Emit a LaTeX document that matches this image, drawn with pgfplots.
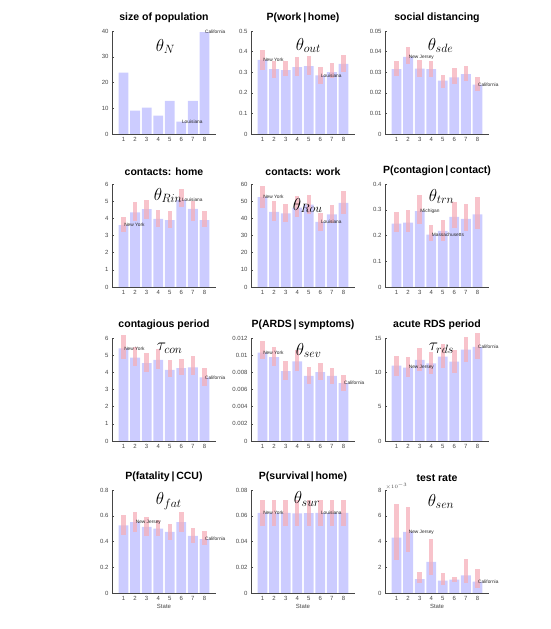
\documentclass[border=0pt]{standalone}
\usepackage{fontspec}
\setmainfont{Liberation Sans}
\usepackage{pgfplots}
\usepackage{pgfplotstable}
\pgfplotsset{compat=1.18}

\definecolor{barblue}{RGB}{204,204,255}
\definecolor{errpink}{RGB}{245,175,185}
\definecolor{axgray}{RGB}{70,70,70}

\pgfplotstableread{
x y
1 23.8
2 9.1
3 10.2
4 7.1
5 12.9
6 4.8
7 12.9
8 39.6
}\tpop
\pgfplotstableread{
x y lo hi
1 0.360 0.310 0.410
2 0.315 0.270 0.355
3 0.310 0.280 0.355
4 0.325 0.280 0.375
5 0.330 0.285 0.380
6 0.285 0.245 0.325
7 0.300 0.270 0.345
8 0.340 0.300 0.385
}\tout
\pgfplotstableread{
x y lo hi
1 0.0315 0.0283 0.0355
2 0.0374 0.0339 0.0422
3 0.0317 0.0278 0.0358
4 0.0315 0.0275 0.0355
5 0.0259 0.0224 0.0288
6 0.0275 0.0243 0.0318
7 0.0291 0.0259 0.0331
8 0.0240 0.0211 0.0275
}\tsde
\pgfplotstableread{
x y lo hi
1 3.60 3.19 4.06
2 4.35 3.87 4.93
3 4.53 3.97 5.07
4 3.97 3.52 4.49
5 3.90 3.44 4.41
6 5.07 4.64 5.71
7 4.55 3.87 5.03
8 3.89 3.48 4.40
}\trin
\pgfplotstableread{
x y lo hi
1 52.3 46.0 59.0
2 43.7 38.5 50.0
3 42.9 38.0 48.5
4 46.2 40.8 53.0
5 48.0 42.3 53.8
6 38.0 32.7 43.3
7 42.3 37.5 47.7
8 49.0 42.7 56.0
}\trou
\pgfplotstableread{
x y lo hi
1 0.246 0.212 0.291
2 0.250 0.212 0.298
3 0.295 0.244 0.358
4 0.203 0.177 0.241
5 0.218 0.180 0.260
6 0.272 0.231 0.331
7 0.265 0.218 0.324
8 0.282 0.224 0.349
}\ttrn
\pgfplotstableread{
x y lo hi
1 5.40 4.78 6.16
2 4.86 4.39 5.47
3 4.53 4.00 5.14
4 4.72 4.19 5.37
5 4.15 3.70 4.74
6 4.25 3.87 4.78
7 4.29 3.87 4.98
8 3.70 3.20 4.23
}\tcon
\pgfplotstableread{
x y lo hi
1 0.01030 0.00960 0.01170
2 0.00976 0.00878 0.01094
3 0.00815 0.00713 0.00929
4 0.00929 0.00819 0.01055
5 0.00760 0.00661 0.00862
6 0.00803 0.00713 0.00909
7 0.00760 0.00661 0.00854
8 0.00673 0.00583 0.00768
}\tsev
\pgfplotstableread{
x y lo hi
1 10.96 9.45 12.45
2 10.70 9.30 12.20
3 11.80 10.20 13.50
4 11.30 9.80 13.00
5 12.30 10.70 14.10
6 11.56 9.95 13.30
7 13.30 11.56 15.20
8 13.70 12.00 15.70
}\trds
\pgfplotstableread{
x y lo hi
1 0.526 0.449 0.603
2 0.551 0.474 0.633
3 0.513 0.444 0.590
4 0.500 0.444 0.564
5 0.474 0.410 0.538
6 0.551 0.474 0.628
7 0.444 0.385 0.505
8 0.418 0.372 0.480
}\tfat
\pgfplotstableread{
x y lo hi
1 0.0622 0.0520 0.0720
2 0.0620 0.0520 0.0720
3 0.0622 0.0520 0.0720
4 0.0618 0.0520 0.0720
5 0.0620 0.0520 0.0720
6 0.0622 0.0520 0.0720
7 0.0620 0.0520 0.0720
8 0.0622 0.0520 0.0720
}\tsur
\pgfplotstableread{
x y lo hi
1 4.31 2.54 6.90
2 4.75 3.17 6.68
3 1.07 0.76 1.60
4 2.41 1.40 4.19
5 0.96 0.63 1.57
6 1.04 0.89 1.22
7 1.37 0.76 2.67
8 0.89 0.38 1.90
}\tsen

\pgfplotsset{
 panel/.style={
  width=104pt, height=103pt, scale only axis,
  anchor=south west,
  axis lines*=left,
  axis line style={axgray, line width=0.6pt, -},
  xmin=0, xmax=9, ymin=0,
  xtick={1,...,8},
  tick align=inside, major tick length=1.8pt,
  tick style={axgray, line width=0.4pt},
  tick label style={font=\fontsize{6}{7}\selectfont, text=axgray},
  /pgf/number format/assume math mode=true,
  scaled y ticks=false,
  yticklabel style={/pgf/number format/fixed, /pgf/number format/precision=3},
  title style={font=\fontsize{10.5}{12}\selectfont\bfseries, at={(0.5,1)}, anchor=south, yshift=-1pt},
  xlabel style={font=\fontsize{6}{7}\selectfont, text=axgray, yshift=3pt},
  clip=false,
 },
}
\tikzset{
 lab/.style={font=\fontsize{4.8}{5}\selectfont, anchor=west, inner sep=0.5pt, text=black!85},
 th/.style={font=\fontsize{17}{20}\selectfont, anchor=west, inner sep=0pt},
}

\newcommand{\bars}[1]{%
 \addplot[ybar, bar width=0.85, fill=barblue, draw=none] table[x=x,y=y]{#1};
 \addplot[draw=none, mark=none, forget plot,
   error bars/.cd, y dir=both, y explicit, error mark=none,
   error bar style={line width=4.5pt, draw=errpink, opacity=0.75}]
   table[x=x, y=y, y error plus expr=\thisrow{hi}-\thisrow{y}, y error minus expr=\thisrow{y}-\thisrow{lo}]{#1};
}

\begin{document}
\begin{tikzpicture}[x=1pt,y=1pt]
\useasboundingbox (0,0) rectangle (550,629);

% Row 1
\begin{axis}[panel, at={(112pt,495pt)}, title={size of population}, ymax=40, ytick={0,10,20,30,40}]
 \addplot[ybar, bar width=0.85, fill=barblue, draw=none] table[x=x,y=y]{\tpop};
 \node[th] at (rel axis cs:0.42,0.85) {$\theta_{N}$};
 \node[lab] at (axis cs:8,39.6) {California};
 \node[lab] at (axis cs:6,4.8) {Louisiana};
\end{axis}

\begin{axis}[panel, at={(251pt,495pt)}, title={P(work\,|\,home)}, ymax=0.5, ytick={0,0.1,0.2,0.3,0.4,0.5}]
 \bars{\tout}
 \node[th] at (rel axis cs:0.43,0.86) {$\theta_{out}$};
 \node[lab] at (axis cs:1,0.36) {New York};
 \node[lab] at (axis cs:6,0.285) {Louisiana};
\end{axis}

\begin{axis}[panel, at={(385pt,495pt)}, title={social distancing}, ymax=0.05, ytick={0,0.01,0.02,0.03,0.04,0.05}]
 \bars{\tsde}
 \node[th] at (rel axis cs:0.41,0.86) {$\theta_{sde}$};
 \node[lab] at (axis cs:2,0.0374) {New Jersey};
 \node[lab] at (axis cs:8,0.0240) {California};
\end{axis}

% Row 2
\begin{axis}[panel, at={(112pt,342pt)}, title={contacts: home}, ymax=6, ytick={0,1,2,3,4,5,6}]
 \bars{\trin}
 \node[th] at (rel axis cs:0.40,0.89) {$\theta_{Rin}$};
 \node[lab] at (axis cs:6,5.07) {Louisiana};
 \node[lab] at (axis cs:1,3.6) {New York};
\end{axis}

\begin{axis}[panel, at={(251pt,342pt)}, title={contacts: work}, ymax=60, ytick={0,10,20,30,40,50,60}]
 \bars{\trou}
 \node[th] at (rel axis cs:0.40,0.79) {$\theta_{Rou}$};
 \node[lab] at (axis cs:1,52.3) {New York};
 \node[lab] at (axis cs:6,38.0) {Louisiana};
\end{axis}

\begin{axis}[panel, at={(385pt,342pt)}, title={P(contagion\,|\,contact)}, ymax=0.4, ytick={0,0.1,0.2,0.3,0.4}]
 \bars{\ttrn}
 \node[th] at (rel axis cs:0.42,0.88) {$\theta_{trn}$};
 \node[lab] at (axis cs:3,0.295) {Michigan};
 \node[lab] at (axis cs:4,0.203) {Massachusetts};
\end{axis}

% Row 3
\begin{axis}[panel, at={(112pt,188pt)}, title={contagious period}, ymax=6, ytick={0,1,2,3,4,5,6}]
 \bars{\tcon}
 \node[th] at (rel axis cs:0.43,0.90) {$\tau_{con}$};
 \node[lab] at (axis cs:1,5.4) {New York};
 \node[lab] at (axis cs:8,3.7) {California};
\end{axis}

\begin{axis}[panel, at={(251pt,188pt)}, title={P(ARDS\,|\,symptoms)}, ymax=0.012, ytick={0,0.002,0.004,0.006,0.008,0.01,0.012}]
 \bars{\tsev}
 \node[th] at (rel axis cs:0.43,0.88) {$\theta_{sev}$};
 \node[lab] at (axis cs:1,0.0103) {New York};
 \node[lab] at (axis cs:8,0.00673) {California};
\end{axis}

\begin{axis}[panel, at={(385pt,188pt)}, title={acute RDS period}, ymax=15, ytick={0,5,10,15}]
 \bars{\trds}
 \node[th] at (rel axis cs:0.42,0.90) {$\tau_{rds}$};
 \node[lab] at (axis cs:2,10.7) {New Jersey};
 \node[lab] at (axis cs:8,13.7) {California};
\end{axis}

% Row 4
\begin{axis}[panel, at={(112pt,36pt)}, title={P(fatality\,|\,CCU)}, ymax=0.8, ytick={0,0.2,0.4,0.6,0.8}, xlabel={State}]
 \bars{\tfat}
 \node[th] at (rel axis cs:0.42,0.89) {$\theta_{fat}$};
 \node[lab] at (axis cs:2,0.551) {New Jersey};
 \node[lab] at (axis cs:8,0.418) {California};
\end{axis}

\begin{axis}[panel, at={(251pt,36pt)}, title={P(survival\,|\,home)}, ymax=0.08, ytick={0,0.02,0.04,0.06,0.08}, xlabel={State}]
 \bars{\tsur}
 \node[th] at (rel axis cs:0.41,0.91) {$\theta_{sur}$};
 \node[lab] at (axis cs:1,0.0622) {New York};
 \node[lab] at (axis cs:6,0.0622) {Louisiana};
\end{axis}

\begin{axis}[panel, at={(385pt,36pt)}, title={test rate}, ymax=8, ytick={0,2,4,6,8}, xlabel={State}]
 \bars{\tsen}
 \node[th] at (rel axis cs:0.41,0.89) {$\theta_{sen}$};
 \node[font=\fontsize{5}{6}\selectfont, text=axgray, anchor=south west, inner sep=0.5pt] at (rel axis cs:0,1) {$\times10^{-3}$};
 \node[lab] at (axis cs:2,4.75) {New Jersey};
 \node[lab] at (axis cs:8,0.89) {California};
\end{axis}
\end{tikzpicture}
\end{document}
